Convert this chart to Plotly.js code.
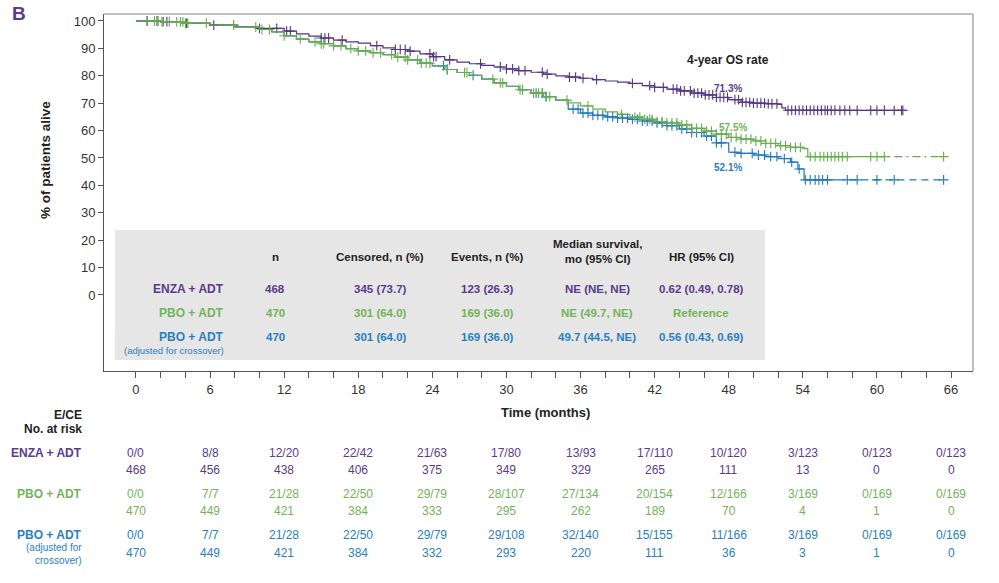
<!DOCTYPE html>
<html>
<head>
<meta charset="utf-8">
<script src="https://cdn.plot.ly/plotly-3.0.1.min.js"></script>
<style>
  html, body { margin: 0; padding: 0; background: #fff; }
  #chart { width: 999px; height: 583px; }
</style>
</head>
<body>
<div id="chart"></div>
<script>
// Kaplan-Meier overall survival, % of patients alive vs months
const enzaTime = [0,2,4,6,8,10,12,13,14,15,16,17,18,19,20,21,22,23,24,25,26,27,28,29,30,31,32,33,34,35,36,37,38,39,40,41,42,43,44,45,46,47,48,49,50,51,52,52.3,52.6,62.1];
const enzaSurv = [100,99.8,99.1,98.5,97.9,97.3,96.3,95.3,94.5,93.8,93.0,92.4,91.9,91.0,90.2,89.6,89.0,88.0,87.0,85.8,85.0,84.4,83.8,83.2,82.5,81.9,81.3,80.6,80.0,79.5,79.1,78.6,78.1,77.7,77.2,76.4,75.8,75.1,74.5,73.7,73.0,72.1,71.3,70.3,70.0,69.8,69.6,68.3,67.4,67.4];
const enzaCensor = [0.9,1.7,2.2,2.5,4.1,6.3,7.9,10.0,11.4,12.2,12.5,15.0,15.3,15.6,16.7,19.5,21.0,21.4,21.8,22.2,23.8,24.1,24.3,25.4,27.9,29.5,30.0,30.5,31.0,31.5,32.9,33.3,35.1,35.6,36.2,37.3,40.2,41.6,42.0,42.7,43.5,43.8,44.1,44.4,44.9,45.2,45.5,45.8,46.1,46.4,46.7,47.0,47.3,47.6,47.9,48.5,48.8,49.1,49.4,49.7,50.0,50.3,50.6,50.9,51.2,51.5,51.9,52.8,53.1,53.4,53.7,54.0,54.3,54.6,54.9,55.2,55.5,55.8,56.0,56.3,56.6,57.0,57.4,57.8,58.4,59.5,60.0,60.6,61.4,62.0,62.1];

const pboTime = [0,2,4,6,8,10,11,12,13,14,15,16,17,18,19,20,21,22,23,24,25,26,27,28,29,30,31,32,33,34,35,36,37,38,39,40,41,42,43,44,45,46,47,48,49,50,51,52,53,54,54.4,65.4];
const pboSurv = [100,99.7,99.2,98.5,97.8,96.9,96.0,94.6,93.4,92.4,91.7,90.9,89.9,89.1,88.4,87.7,86.8,85.8,84.6,83.6,82.3,81.2,80.2,78.8,77.4,76.1,74.9,73.7,72.4,71.1,70.1,69.0,67.8,66.8,65.9,64.9,64.1,63.3,62.8,62.1,60.8,59.8,58.7,57.5,56.9,56.2,55.3,54.5,53.9,53.4,50.5,50.5];
const pboCensor = [0.9,1.5,1.8,2.1,2.7,3.3,3.6,3.8,4.0,4.2,5.7,7.9,9.7,10.2,10.8,12.0,13.3,14.5,15.0,15.2,16.0,16.6,17.4,18.0,18.6,19.2,19.8,20.7,21.2,21.8,22.0,22.8,23.1,23.5,23.8,25.2,26.6,26.8,28.9,29.5,29.7,31.1,31.3,32.2,32.6,32.9,33.2,33.5,34.9,36.6,39.3,40.4,40.8,41.2,41.6,41.8,42.2,42.6,43.0,43.4,43.8,44.2,44.6,45.0,45.4,45.8,46.2,46.6,47.0,47.4,47.8,48.2,48.6,49.0,49.4,49.8,50.2,50.6,51.0,51.4,51.8,52.2,52.6,53.0,53.4,53.8,54.6,55.0,55.4,55.7,56.0,56.3,56.6,56.9,57.2,57.6,59.5,60.0,60.6,65.4];

const adjTime = [0,2,4,6,8,10,11,12,13,14,15,16,17,18,19,20,21,22,23,24,25,26,27,28,29,30,31,32,33,34,35,36,37,38,39,40,41,42,43,44,45,46,47,48,49,50,51,52,53,53.6,54.1,65.4];
const adjSurv = [100,99.7,99.2,98.5,97.8,96.9,96.0,94.6,93.4,92.4,91.7,90.9,89.9,89.1,88.4,87.7,86.8,85.8,84.6,83.6,82.3,81.2,80.2,78.8,77.4,76.1,74.9,73.7,72.4,71.1,67.8,66.4,65.6,65.0,64.6,64.1,63.5,62.8,61.8,60.6,59.3,58.0,55.5,52.1,51.7,51.1,50.5,49.8,48.5,46.0,42.0,42.0];
const adjCensor = [24.9,25.2,27.3,31.3,32.4,32.9,33.2,35.4,35.8,36.2,36.6,37.0,37.4,37.8,38.2,38.6,39.0,39.4,39.8,40.2,40.6,41.0,41.4,41.8,42.2,42.6,43.0,43.4,43.8,44.2,44.6,45.0,45.4,45.8,46.2,46.6,47.0,47.4,48.5,49.0,49.9,50.4,50.9,51.4,51.9,52.5,53.1,53.7,54.2,54.6,55.0,55.3,55.6,56.0,57.6,58.4,60.0,61.4,65.4];

// 4-year OS rates
const osRate4y = {enza: '71.3%', pbo: '57.5%', adj: '52.1%'};

// Summary table
const tableHeaders = ['n', 'Censored, n (%)', 'Events, n (%)', 'Median survival,<br>mo (95% CI)', 'HR (95% CI)'];
const armLabels = ['ENZA + ADT', 'PBO + ADT', 'PBO + ADT'];
const enzaRow = ['468', '345 (73.7)', '123 (26.3)', 'NE (NE, NE)', '0.62 (0.49, 0.78)'];
const pboRow = ['470', '301 (64.0)', '169 (36.0)', 'NE (49.7, NE)', 'Reference'];
const adjRow = ['470', '301 (64.0)', '169 (36.0)', '49.7 (44.5, NE)', '0.56 (0.43, 0.69)'];

// Numbers at risk
const riskTimes = [0,6,12,18,24,30,36,42,48,54,60,66];
const enzaEvents = ['0/0','8/8','12/20','22/42','21/63','17/80','13/93','17/110','10/120','3/123','0/123','0/123'];
const enzaAtRisk = [468,456,438,406,375,349,329,265,111,13,0,0];
const pboEvents = ['0/0','7/7','21/28','22/50','29/79','28/107','27/134','20/154','12/166','3/169','0/169','0/169'];
const pboAtRisk = [470,449,421,384,333,295,262,189,70,4,1,0];
const adjEvents = ['0/0','7/7','21/28','22/50','29/79','29/108','32/140','15/155','11/166','3/169','0/169','0/169'];
const adjAtRisk = [470,449,421,384,332,293,220,111,36,3,1,0];

// ---- styling ----
const PURPLE = '#553584', GREEN = '#67ad4c', BLUE = '#1f78bd';
const PURPLE_T = '#5a3b8c', GREEN_T = '#74b35a', BLUE_T = '#2a7fc0';
const FONT = 'Liberation Sans, Arial, Helvetica, sans-serif';

const W = 999, H = 583, ML = 104, MR = 26, MT = 14, MB = 212;
const PW = W - ML - MR, PH = H - MT - MB;
const px = v => (v - ML) / PW;
const py = v => (H - MB - v) / PH;

function stepAt(times, surv, t) {
  let v = surv[0];
  for (let i = 0; i < times.length; i++) if (times[i] <= t) v = surv[i];
  return v;
}
function split(times, surv, t0) {
  const a = {x: [], y: []}, b = {x: [t0], y: [stepAt(times, surv, t0)]};
  times.forEach((t, i) => { if (t < t0) { a.x.push(t); a.y.push(surv[i]); } else if (t > t0) { b.x.push(t); b.y.push(surv[i]); } });
  a.x.push(t0); a.y.push(stepAt(times, surv, t0));
  return [a, b];
}
function lineTrace(x, y, color, dash) {
  return {x, y, type: 'scatter', mode: 'lines', line: {shape: 'hv', color, width: 1.2, dash: dash || 'solid'}, hoverinfo: 'skip', showlegend: false};
}
function censorTrace(times, surv, cens, color) {
  return {x: cens, y: cens.map(t => stepAt(times, surv, t)), type: 'scatter', mode: 'markers',
    marker: {symbol: 'cross-thin', size: 7, color, line: {color, width: 1.1}}, hoverinfo: 'skip', showlegend: false};
}

const [adjMain, adjTail] = split(adjTime, adjSurv, 56.8);
const [pboMain, pboTail] = split(pboTime, pboSurv, 58.5);

const traces = [
  lineTrace(adjMain.x, adjMain.y, BLUE),
  lineTrace(adjTail.x, adjTail.y, BLUE, '7px,5px'),
  censorTrace(adjTime, adjSurv, adjCensor, BLUE),
  lineTrace(enzaTime, enzaSurv, PURPLE),
  censorTrace(enzaTime, enzaSurv, enzaCensor, PURPLE),
  lineTrace(pboMain.x, pboMain.y, GREEN),
  lineTrace(pboTail.x, pboTail.y, GREEN, '8px,4px,2px,4px'),
  censorTrace(pboTime, pboSurv, pboCensor, GREEN)
];

const ann = [];
function txt(text, x, y, opt) {
  opt = opt || {};
  ann.push(Object.assign({
    text, x: opt.xref === 'x' ? x : px(x), y: py(y), xref: opt.xref || 'paper', yref: 'paper',
    showarrow: false, xanchor: opt.xanchor || 'center', yanchor: 'middle',
    font: {family: FONT, size: opt.size || 12, color: opt.color || '#222'}
  }, opt.extra || {}));
}
const b = s => '<b>' + s + '</b>';

txt(b('B'), 10, 13, {size: 19, color: PURPLE_T, xanchor: 'left'});
txt(b('% of patients alive'), 45, 160, {size: 13.5, extra: {textangle: -90}});
txt(b('Time (months)'), 545, 412, {size: 13});
txt(b('4-year OS rate'), 728, 60, {size: 12});
txt(b(osRate4y.enza), 728, 88, {size: 10, color: PURPLE_T});
txt(b(osRate4y.pbo), 733, 127, {size: 10, color: GREEN_T});
txt(b(osRate4y.adj), 728, 167, {size: 10, color: BLUE_T});

// summary table inside the plot
const colX = [275, 380, 487, 597, 701];
tableHeaders.forEach((h, i) => txt(b(h), colX[i], i === 3 ? 251 : 257, {size: 11.5}));
const rowY = [289, 313, 337];
const rowCol = [PURPLE_T, GREEN_T, BLUE_T];
[enzaRow, pboRow, adjRow].forEach((row, r) => {
  txt(b(armLabels[r]), 226, rowY[r], {size: 12, color: rowCol[r], xanchor: 'right'});
  row.forEach((v, i) => txt(b(v), colX[i], rowY[r], {size: 11.5, color: rowCol[r]}));
});
txt('(adjusted for crossover)', 226, 350, {size: 9.5, color: BLUE_T, xanchor: 'right'});

// numbers at risk
txt(b('E/CE'), 84, 415, {size: 12, xanchor: 'right'});
txt(b('No. at risk'), 84, 429, {size: 12, xanchor: 'right'});
const riskRows = [
  [enzaEvents, enzaAtRisk, 453, 470, PURPLE_T],
  [pboEvents, pboAtRisk, 494, 511, GREEN_T],
  [adjEvents, adjAtRisk, 535, 553, BLUE_T]
];
riskRows.forEach(([ev, nr, y1, y2, c], r) => {
  txt(b(armLabels[r]), 84, y1, {size: 12, color: c, xanchor: 'right'});
  riskTimes.forEach((t, i) => {
    txt(ev[i], t, y1, {xref: 'x', size: 12, color: c});
    txt(String(nr[i]), t, y2, {xref: 'x', size: 12, color: c});
  });
});
txt('(adjusted for', 84, 547, {size: 10, color: BLUE_T, xanchor: 'right'});
txt('crossover)', 84, 560, {size: 10, color: BLUE_T, xanchor: 'right'});

const minorX = [];
for (let t = 2; t < 66; t += 2) if (t % 6 !== 0) minorX.push(t);

const layout = {
  width: W, height: H,
  margin: {l: ML, r: MR, t: MT, b: MB, pad: 0},
  paper_bgcolor: '#fff', plot_bgcolor: '#fff',
  font: {family: FONT, color: '#333'},
  showlegend: false,
  xaxis: {
    range: [-2.59, 67.78], tickmode: 'array', tickvals: riskTimes, ticktext: riskTimes.map(String),
    ticks: 'outside', ticklen: 6, tickwidth: 1, tickcolor: '#555',
    showline: true, linecolor: '#555', linewidth: 1, showgrid: false, zeroline: false,
    tickfont: {family: FONT, size: 13, color: '#333'},
    minor: {tickmode: 'array', tickvals: minorX, ticks: 'outside', ticklen: 6, tickcolor: '#555', showgrid: false}
  },
  yaxis: {
    range: [-27.74, 102.55], tickmode: 'array', tickvals: [0,10,20,30,40,50,60,70,80,90,100],
    ticks: 'outside', ticklen: 5, tickwidth: 1, tickcolor: '#555',
    showline: true, linecolor: '#555', linewidth: 1, showgrid: false, zeroline: false,
    tickfont: {family: FONT, size: 13, color: '#333'}
  },
  shapes: [
    {type: 'rect', xref: 'paper', yref: 'paper', x0: px(115), x1: px(765), y0: py(360), y1: py(230),
     fillcolor: '#e6e6e6', line: {width: 0}, layer: 'below'},
    {type: 'line', xref: 'paper', yref: 'paper', x0: 0, x1: 1, y0: 1, y1: 1, line: {color: '#aaa', width: 1.5}},
    {type: 'line', xref: 'paper', yref: 'paper', x0: 1, x1: 1, y0: 0, y1: 1, line: {color: '#aaa', width: 1.5}}
  ],
  annotations: ann
};

Plotly.newPlot('chart', traces, layout, {staticPlot: true, displayModeBar: false});
</script>
</body>
</html>
